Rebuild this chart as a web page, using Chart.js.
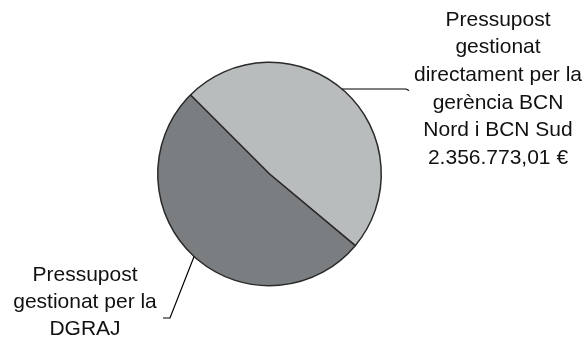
<!DOCTYPE html>
<html>
<head>
<meta charset="utf-8">
<script src="https://cdn.jsdelivr.net/npm/chart.js@4/dist/chart.umd.min.js"></script>
<style>
  html, body { margin: 0; padding: 0; background: #fff; }
  #wrap { width: 587px; height: 339px; position: relative; }
</style>
</head>
<body>
<div id="wrap"><canvas id="chart"></canvas></div>
<script>
// budget split (euros)
const categories = [
    ['Pressupost', 'gestionat', 'directament per la', 'gerència BCN', 'Nord i BCN Sud'],
    ['Pressupost', 'gestionat per la', 'DGRAJ']
];
const amounts = [2356773.01, 2494180.00];
const showAmount = [true, false];
const colors = ['#b8bcbd', '#7b7e80'];

// label boxes: text centre, first line y, leader height and elbow points
const labelLayout = [
    { cx: 498, y0: 20, step: 27.6, leaderY: 89, leader: [[406, 89], [409, 90.5]] },
    { cx: 85, y0: 275, step: 27, leaderY: null, leader: [[170, 318], [163, 318]] }
];

const euro = v => v.toLocaleString('de-DE', { minimumFractionDigits: 2, maximumFractionDigits: 2 }) + ' €';

const sliceLabels = {
    id: 'sliceLabels',
    afterDraw(chart) {
        const ctx = chart.ctx;
        const arcs = chart.getDatasetMeta(0).data;
        ctx.save();
        arcs.forEach((arc, i) => {
            const { x, y, startAngle, endAngle, outerRadius } = arc.getProps(['x', 'y', 'startAngle', 'endAngle', 'outerRadius'], true);
            const lay = labelLayout[i];
            let px, py;
            if (lay.leaderY !== null) {
                // horizontal leader: meet the rim at the given height
                py = lay.leaderY;
                px = x + Math.sqrt(outerRadius * outerRadius - (py - y) * (py - y));
            } else {
                const mid = (startAngle + endAngle) / 2;
                px = x + Math.cos(mid) * outerRadius;
                py = y + Math.sin(mid) * outerRadius;
            }

            // leader line
            ctx.strokeStyle = '#000';
            ctx.lineWidth = 1.2;
            ctx.beginPath();
            ctx.moveTo(px, py);
            lay.leader.forEach(p => ctx.lineTo(p[0], p[1]));
            ctx.stroke();

            // label text
            const lines = categories[i].slice();
            if (showAmount[i]) lines.push(euro(amounts[i]));
            ctx.fillStyle = '#111';
            ctx.font = '21px "Liberation Sans", Arial, sans-serif';
            ctx.textAlign = 'center';
            ctx.textBaseline = 'middle';
            lines.forEach((t, k) => ctx.fillText(t, lay.cx, lay.y0 + k * lay.step));
        });
        ctx.restore();
    }
};

new Chart(document.querySelector('#chart'), {
    type: 'pie',
    data: {
        labels: categories.map(c => c.join(' ')),
        datasets: [{
            data: amounts,
            backgroundColor: colors,
            borderColor: '#2a2a2a',
            borderWidth: 1.5
        }]
    },
    options: {
        responsive: true,
        maintainAspectRatio: false,
        animation: false,
        rotation: -45,
        layout: { padding: { left: 157, right: 205, top: 61, bottom: 52 } },
        plugins: {
            legend: { display: false },
            tooltip: { enabled: false }
        }
    },
    plugins: [sliceLabels]
});
</script>
</body>
</html>
